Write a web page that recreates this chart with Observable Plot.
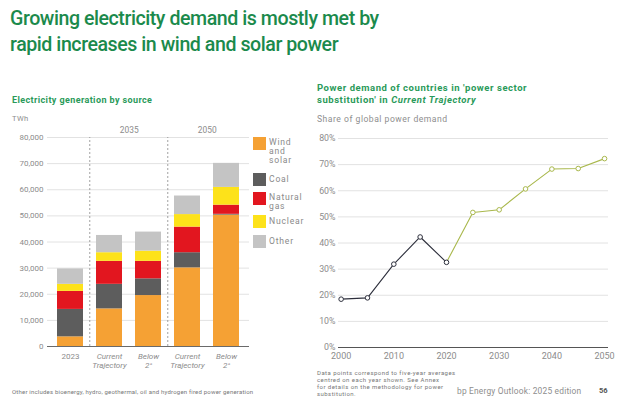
<!DOCTYPE html>
<html>
<head>
<meta charset="utf-8">
<script src="https://cdn.jsdelivr.net/npm/d3@7"></script>
<script src="https://cdn.jsdelivr.net/npm/@observablehq/plot@0.6"></script>
<style>
  html, body { margin: 0; padding: 0; background: #fff; }
  #page { position: relative; width: 624px; height: 399px; overflow: hidden; font-family: Roboto, "Open Sans", sans-serif; }
  .abs { position: absolute; white-space: nowrap; }
  #title { left: 10px; top: 6px; font-size: 19.6px; line-height: 26px; color: #1b8a4c; font-weight: 500; letter-spacing: -0.45px; }
  .sub { font-weight: 700; color: #2a9a5a; line-height: 12px; }
  .gray { color: #8e8e8e; }
  .legend { left: 253px; top: 137px; font-size: 8.6px; color: #8a8a8a; letter-spacing: 0.8px; }
  .legend .item { position: absolute; left: 0; }
  .legend .sw { position: absolute; left: 0; width: 13px; height: 13px; }
  .legend .lab { position: absolute; left: 16px; line-height: 9px; }
  .tiny { font-size: 6px; color: #777; line-height: 7px; }
  svg { position: absolute; }
</style>
</head>
<body>
<div id="page">
  <div class="abs" id="title">Growing electricity demand is mostly met by<br>rapid increases in wind and solar power</div>
  <div class="abs sub" style="left:12px; top:94px; font-size:9px; letter-spacing:0.4px;">Electricity generation by source</div>
  <div class="abs gray" style="left:12px; top:114px; font-size:7.6px; letter-spacing:0.4px;">TWh</div>
  <div class="abs sub" style="left:317px; top:82px; font-size:9.5px; letter-spacing:0.55px;">Power demand of countries in 'power sector<br>substitution' in <i>Current Trajectory</i></div>
  <div class="abs gray" style="left:317px; top:114px; font-size:8.6px; letter-spacing:0.5px;">Share of global power demand</div>
  <div class="abs legend" id="legend"></div>
  <div class="abs tiny" style="left:12px; top:388px; letter-spacing:0.2px;">Other includes bioenergy, hydro, geothermal, oil and hydrogen fired power generation</div>
  <div class="abs tiny" style="left:317px; top:369px; letter-spacing:0.45px;">Data points correspond to five-year averages<br>centred on each year shown. See Annex<br>for details on the methodology for power<br>substitution.</div>
  <div class="abs gray" style="left:457px; top:386px; font-size:8.4px; letter-spacing:0.2px;">bp Energy Outlook: 2025 edition</div>
  <div class="abs" style="left:599px; top:386px; font-size:7.5px; font-weight:700; color:#555;">56</div>
  <div id="left"></div>
  <div id="right"></div>
</div>
<script>
// ---------- Data: electricity generation by source (TWh) ----------
const barIds = ["2023", "CT2035", "B2035", "CT2050", "B2050"];
const barLabels = ["2023", "Current\nTrajectory", "Below\n2°", "Current\nTrajectory", "Below\n2°"];
const periodLabels = ["2035", "2050"];
const sources = ["Wind and solar", "Coal", "Natural gas", "Nuclear", "Other"];
const legendLabels = ["Wind\nand\nsolar", "Coal", "Natural\ngas", "Nuclear", "Other"];
const windSolar = [3700, 14400, 19500, 30100, 50300];
const coal      = [10500, 9400, 6400, 5800, 300];
const gas       = [6900, 8800, 6700, 9800, 3500];
const nuclear   = [2700, 3300, 3900, 4800, 6800];
const other     = [5900, 6600, 7300, 7100, 9200];
const yTicksLeft = [0, 10000, 20000, 30000, 40000, 50000, 60000, 70000, 80000];

// ---------- Data: share of global power demand (%) ----------
const years = [2000, 2005, 2010, 2015, 2020, 2025, 2030, 2035, 2040, 2045, 2050];
const share = [18.5, 19.0, 31.9, 42.3, 32.6, 51.7, 52.7, 60.7, 68.3, 68.5, 72.3];
const xTicksRight = [2000, 2010, 2020, 2030, 2040, 2050];
const yTicksRight = [0, 10, 20, 30, 40, 50, 60, 70, 80];

const colors = ["#f5a134", "#5d5d5d", "#e2161f", "#fde21a", "#c4c4c4"];
const histColor = "#2d2f3c";
const projColor = "#a9b84c";
const font = "Roboto, 'Open Sans', sans-serif";

// ---------- Left chart ----------
const series = [windSolar, coal, gas, nuclear, other];
const barData = [];
barIds.forEach((id, i) => sources.forEach((s, j) => barData.push({id, source: s, value: series[j][i]})));

const W1 = 250, H1 = 270, mL1 = 47, mR1 = 1, mT1 = 27, mB1 = 34;
const padIn = 0.34, padOut = 0.23;
const step = (W1 - mL1 - mR1) / (barIds.length - padIn + 2 * padOut);
const labelOf = Object.fromEntries(barIds.map((d, i) => [d, barLabels[i]]));

const left = Plot.plot({
  width: W1, height: H1,
  marginLeft: mL1, marginRight: mR1, marginTop: mT1, marginBottom: mB1,
  style: {fontFamily: font, fontSize: "8px", color: "#8c8c8c", background: "transparent", overflow: "visible"},
  x: {domain: barIds, paddingInner: padIn, paddingOuter: padOut, axis: null},
  y: {domain: [0, 80000], axis: null},
  color: {domain: sources, range: colors},
  marks: [
    Plot.gridY(yTicksLeft.filter(d => d > 0), {stroke: "#e2e2e2", strokeOpacity: 1, strokeWidth: 1}),
    Plot.axisY(yTicksLeft, {tickSize: 0, tickPadding: 4, tickFormat: d3.format(","), label: null, fontSize: 8, letterSpacing: "0.6px"}),
    Plot.ruleX([barIds[1], barIds[3]], {x: d => d, y1: 0, y2: 80000, dx: -step / 2, stroke: "#8a8a8a", strokeDasharray: "2,2", strokeWidth: 0.8}),
    Plot.text(periodLabels, {x: (d, i) => barIds[1 + 2 * i], y: () => 80000, text: d => d, dx: step / 2, dy: -7, fill: "#8c8c8c", fontSize: 8.4, letterSpacing: "0.5px"}),
    Plot.barY(barData, {x: "id", y: "value", fill: "source", order: sources}),
    Plot.ruleY([0], {stroke: "#6a6a6a", strokeWidth: 1}),
    Plot.axisX([barIds[0]], {tickSize: 0, tickPadding: 6, tickFormat: d => labelOf[d], label: null, fontSize: 8, lineHeight: 1.12, letterSpacing: "0.4px"}),
    Plot.axisX(barIds.slice(1), {tickSize: 0, tickPadding: 6, tickFormat: d => labelOf[d], label: null, fontSize: 8, fontStyle: "italic", lineHeight: 1.12, letterSpacing: "0.4px"})
  ]
});
left.style.left = "0px"; left.style.top = "110px";
document.getElementById("left").appendChild(left);

// legend
const legendTops = [0, 36, 55, 78, 98];
const lg = document.getElementById("legend");
sources.forEach((s, i) => {
  const it = document.createElement("div");
  it.className = "item"; it.style.top = legendTops[i] + "px";
  it.innerHTML = `<div class="sw" style="background:${colors[i]}"></div><div class="lab" style="top:${legendLabels[i].includes("\n") ? 1 : 2}px">${legendLabels[i].replace(/\n/g, "<br>")}</div>`;
  lg.appendChild(it);
});

// ---------- Right chart ----------
const pts = years.map((y, i) => ({year: y, share: share[i]}));
const hist = pts.filter(d => d.year <= 2020);
const proj = pts.filter(d => d.year >= 2020);

const right = Plot.plot({
  width: 324, height: 270,
  marginLeft: 38, marginRight: 16, marginTop: 28, marginBottom: 33,
  style: {fontFamily: font, fontSize: "9px", color: "#8c8c8c", background: "transparent", overflow: "visible"},
  x: {domain: [1999.5, 2050.75], axis: null},
  y: {domain: [0, 80], axis: null},
  marks: [
    Plot.gridY(yTicksRight.filter(d => d > 0), {stroke: "#e2e2e2", strokeOpacity: 1, strokeWidth: 1}),
    Plot.axisY(yTicksRight, {tickSize: 0, tickPadding: 3, tickFormat: d => d + "%", label: null, fontSize: 8.8, letterSpacing: "0.4px"}),
    Plot.ruleY([0], {stroke: "#555", strokeWidth: 1}),
    Plot.axisX(xTicksRight, {tickSize: 0, tickPadding: 5, tickFormat: d => String(d), label: null, fontSize: 9, letterSpacing: "0.3px"}),
    Plot.line(proj, {x: "year", y: "share", stroke: projColor, strokeWidth: 1.1}),
    Plot.line(hist, {x: "year", y: "share", stroke: histColor, strokeWidth: 1.1}),
    Plot.dot(proj.filter(d => d.year > 2020), {x: "year", y: "share", r: 2.3, stroke: projColor, fill: "white", strokeWidth: 1}),
    Plot.dot(hist, {x: "year", y: "share", r: 2.3, stroke: histColor, fill: "white", strokeWidth: 1})
  ]
});
right.style.left = "300px"; right.style.top = "110px";
document.getElementById("right").appendChild(right);
</script>
</body>
</html>
